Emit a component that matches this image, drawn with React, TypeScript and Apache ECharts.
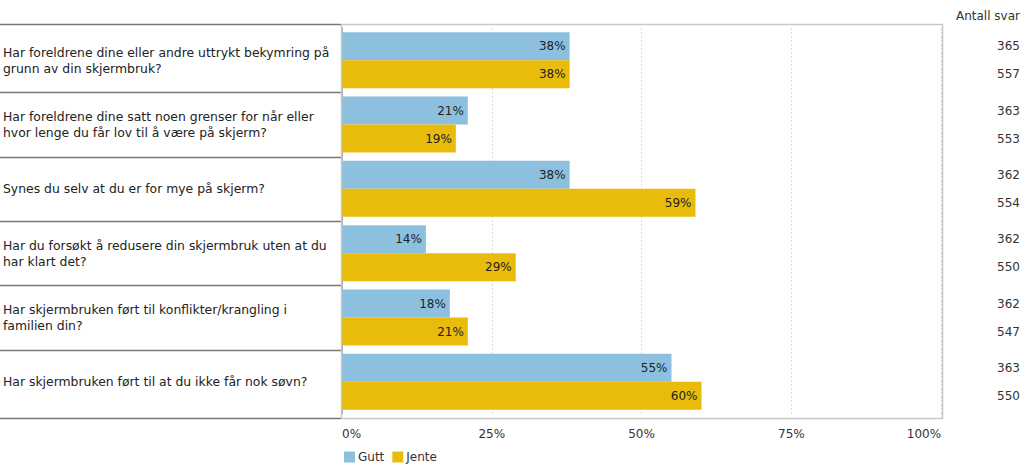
import React, { useEffect, useRef } from "react";
import * as echarts from "echarts";

const categories = [
  "Har foreldrene dine eller andre uttrykt bekymring på\ngrunn av din skjermbruk?",
  "Har foreldrene dine satt noen grenser for når eller\nhvor lenge du får lov til å være på skjerm?",
  "Synes du selv at du er for mye på skjerm?",
  "Har du forsøkt å redusere din skjermbruk uten at du\nhar klart det?",
  "Har skjermbruken ført til konflikter/krangling i\nfamilien din?",
  "Har skjermbruken ført til at du ikke får nok søvn?",
];
const gutt = [38, 21, 38, 14, 18, 55];
const jente = [38, 19, 59, 29, 21, 60];
const antallGutt = [365, 363, 362, 362, 362, 363];
const antallJente = [557, 553, 554, 550, 547, 550];
const xTicks = [0, 25, 50, 75, 100];

const FONT = "DejaVu Sans";
const GRID_LEFT = 341;
const GRID_RIGHT_X = 942;
const GRID_TOP = 28;
const GRID_BOTTOM_Y = 414;
const FRAME_TOP = 24;
const FRAME_BOTTOM = 418;

export default function App() {
  const ref = useRef<HTMLDivElement>(null);
  useEffect(() => {
    if (!ref.current) return;
    const chart = echarts.init(ref.current, null, { renderer: "svg" });
    const band = (GRID_BOTTOM_Y - GRID_TOP) / categories.length;
    const sepLines: any[] = [];
    for (let i = 1; i < categories.length; i++) {
      const y = Math.round(GRID_TOP + band * i) + 0.5;
      sepLines.push({
        type: "line",
        shape: { x1: 0, y1: y, x2: GRID_LEFT, y2: y },
        style: { stroke: "#777", lineWidth: 1.5 },
        silent: true,
      });
    }
    chart.setOption({
      animation: false,
      textStyle: { fontFamily: FONT },
      title: {
        text: "Antall svar",
        left: 951,
        top: 5,
        textStyle: { fontFamily: FONT, fontSize: 12, fontWeight: "normal", color: "#333" },
      },
      legend: {
        left: 339,
        top: 446,
        itemWidth: 11,
        itemHeight: 11,
        itemGap: 8,
        icon: "rect",
        textStyle: { fontFamily: FONT, fontSize: 12, color: "#333", padding: [0, 0, 0, -2] },
        data: ["Gutt", "Jente"],
      },
      grid: {
        left: GRID_LEFT,
        top: GRID_TOP,
        width: GRID_RIGHT_X - GRID_LEFT,
        height: GRID_BOTTOM_Y - GRID_TOP,
        containLabel: false,
      },
      xAxis: {
        type: "value",
        min: 0,
        max: 100,
        interval: 25,
        axisLine: { show: false },
        axisTick: { show: false },
        splitLine: { show: true, lineStyle: { color: "#dadada", type: [2, 2], width: 1 } },
        axisLabel: {
          formatter: (v: number) => (xTicks.includes(v) ? v + "%" : ""),
          fontFamily: FONT,
          fontSize: 12,
          color: "#333",
          margin: 14,
          alignMinLabel: "left",
          alignMaxLabel: "right",
        },
      },
      yAxis: [
        {
          type: "category",
          data: categories,
          inverse: true,
          axisLine: { show: true, lineStyle: { color: "#aaa", width: 1 } },
          axisTick: { show: false },
          axisLabel: {
            align: "left",
            margin: 339,
            fontFamily: FONT,
            fontSize: 12.4,
            lineHeight: 16,
            color: "#222",
          },
        },
        {
          type: "category",
          data: categories,
          inverse: true,
          position: "right",
          axisLine: { show: false },
          axisTick: { show: false },
          axisLabel: {
            align: "left",
            margin: 56,
            fontFamily: FONT,
            fontSize: 12,
            lineHeight: 28,
            color: "#333",
            formatter: (_v: string, idx: number) => `${antallGutt[idx]}\n${antallJente[idx]}`,
          },
        },
      ],
      series: [
        {
          name: "Gutt",
          type: "bar",
          data: gutt,
          barWidth: 28,
          barGap: "0%",
          itemStyle: { color: "#8cc0de" },
          label: {
            show: true,
            position: "insideRight",
            formatter: "{c}%",
            fontFamily: FONT,
            fontSize: 12,
            color: "#222",
            distance: 4,
          },
        },
        {
          name: "Jente",
          type: "bar",
          data: jente,
          barWidth: 28,
          barGap: "0%",
          itemStyle: { color: "#e9bc0c" },
          label: {
            show: true,
            position: "insideRight",
            formatter: "{c}%",
            fontFamily: FONT,
            fontSize: 12,
            color: "#222",
            distance: 4,
          },
        },
      ],
      graphic: [
        {
          type: "rect",
          shape: { x: GRID_LEFT + 0.5, y: FRAME_TOP + 0.5, width: GRID_RIGHT_X - GRID_LEFT, height: FRAME_BOTTOM - FRAME_TOP },
          style: { fill: "none", stroke: "#c8c8c8", lineWidth: 1.5 },
          silent: true,
          z: 10,
        },
        {
          type: "line",
          shape: { x1: 0, y1: FRAME_TOP + 0.5, x2: GRID_LEFT, y2: FRAME_TOP + 0.5 },
          style: { stroke: "#777", lineWidth: 1.5 },
          silent: true,
        },
        {
          type: "line",
          shape: { x1: 0, y1: FRAME_BOTTOM + 0.5, x2: GRID_LEFT, y2: FRAME_BOTTOM + 0.5 },
          style: { stroke: "#777", lineWidth: 1.5 },
          silent: true,
        },
        ...sepLines,
      ],
    });
    return () => chart.dispose();
  }, []);
  return (
    <div
      ref={ref}
      style={{ position: "absolute", left: 0, top: 0, width: 1023, height: 465, background: "#fff" }}
    />
  );
}
